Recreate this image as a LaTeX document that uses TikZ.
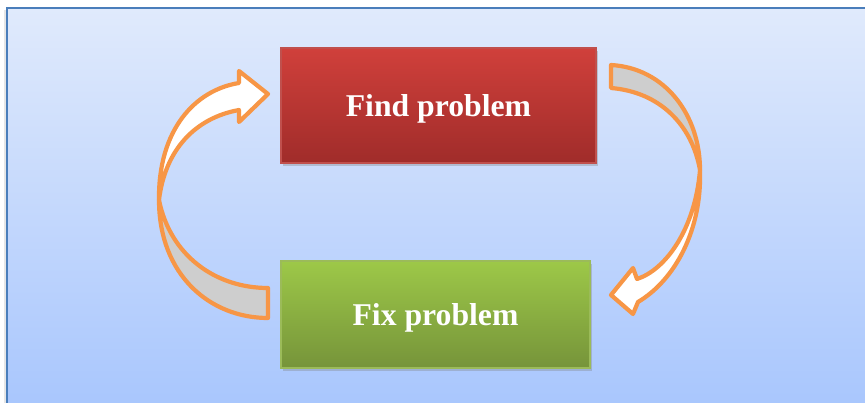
\documentclass[tikz,border=0pt]{standalone}
\usepackage{fontspec}
\setmainfont{Liberation Serif}
\usetikzlibrary{shadows}
\definecolor{bgtop}{HTML}{E0EAFC}
\definecolor{bgbottom}{HTML}{A8C6FD}
\definecolor{bgline}{HTML}{4A7EBB}
\definecolor{findtop}{HTML}{D0403B}
\definecolor{findbottom}{HTML}{A02C2A}
\definecolor{findline}{HTML}{C0504D}
\definecolor{fixtop}{HTML}{9DC848}
\definecolor{fixbottom}{HTML}{76943A}
\definecolor{fixline}{HTML}{9BBB59}
\definecolor{curveorange}{HTML}{F79646}
\definecolor{backgrey}{HTML}{CECECE}

\begin{document}
\begin{tikzpicture}[x=1pt, y=-1pt,
    stepbox/.style={draw, line width=1.2pt, inner sep=0pt, text=white, text depth=0pt,
      font=\fontsize{31.7}{36}\selectfont\bfseries,
      drop shadow={shadow xshift=1.5pt, shadow yshift=-3pt, opacity=0.35}},
    curvearrow/.style={draw=curveorange, line width=4.2pt, line join=round}]
          \useasboundingbox (0,0) rectangle (865,403);

          \draw[top color=bgtop, bottom color=bgbottom, draw=bgline, line width=1.5pt,
            drop shadow={shadow xshift=-3pt, shadow yshift=-2pt, opacity=0.2}]
          (7,8) rectangle (870,410);

          \node[stepbox, draw=findline, top color=findtop, bottom color=findbottom,
            minimum width=315pt, minimum height=115pt] (find) at (438.5,105.5) {Find problem};
          \node[stepbox, draw=fixline, top color=fixtop, bottom color=fixbottom,
            minimum width=309pt, minimum height=107pt] (fix) at (435.5,314.5) {Fix problem};

          % left arrow, fix -> find
          \filldraw[curvearrow, fill=backgrey] (159,200) .. controls (170,255) and (215,288) .. (268,288)
          -- (268,318) .. controls (210,318) and (159,275) .. (159,200) -- cycle;
          \filldraw[curvearrow, fill=white] (159,200) .. controls (158,130) and (195,90) .. (239,83)
          -- (239,71) -- (268,94) -- (239,122) -- (239,110)
          .. controls (195,118) and (165,150) .. (159,200) -- cycle;

          % right arrow, find -> fix
          \filldraw[curvearrow, fill=backgrey] (611,65) .. controls (665,68) and (700,115) .. (700,170)
          .. controls (692,125) and (660,92) .. (611,88) -- cycle;
          \filldraw[curvearrow, fill=white] (700,170) .. controls (702,230) and (675,280) .. (638,302)
          -- (633,314) -- (611,295) -- (633,268) -- (637,279)
          .. controls (665,270) and (695,230) .. (700,170) -- cycle;

        \end{tikzpicture}
\end{document}
